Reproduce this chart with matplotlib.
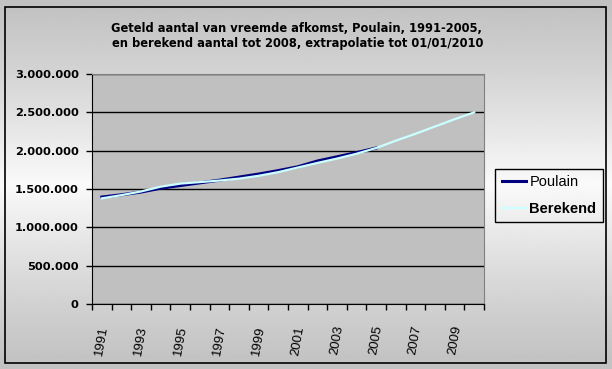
import matplotlib
matplotlib.use("Agg")
import matplotlib.pyplot as plt
from matplotlib.patches import Rectangle
from matplotlib.ticker import FuncFormatter, FixedLocator
import numpy as np

# data
years = list(range(1991, 2011))
poulain = [1395000, 1425000, 1460000, 1510000, 1545000, 1580000, 1615000, 1655000,
           1695000, 1740000, 1790000, 1865000, 1920000, 1975000, 2035000]
berekend = [1378000, 1420000, 1468000, 1530000, 1570000, 1590000, 1610000, 1635000,
            1672000, 1720000, 1780000, 1840000, 1897000, 1960000, 2035000, 2130000,
            2220000, 2315000, 2410000, 2500000]
title1 = "Geteld aantal van vreemde afkomst, Poulain, 1991-2005,"
title2 = "en berekend aantal tot 2008, extrapolatie tot 01/01/2010"

plt.rcParams['font.family'] = ['Liberation Sans', 'DejaVu Sans']

W, H = 612, 369
fig = plt.figure(figsize=(W / 100, H / 100), dpi=100)

# background gradient (grey at top and bottom, light in the middle)
bg = fig.add_axes([0, 0, 1, 1], zorder=-10)
t = np.linspace(0, 1, 256)
g = 0.76 + 0.22 * (1 - np.abs(t - 0.5) * 2) ** 1.2
bg.imshow(g[:, None], cmap='gray', vmin=0, vmax=1, aspect='auto', extent=[0, 1, 0, 1])
bg.set_axis_off()

# chart border
fig.patches.append(Rectangle((5 / W, 1 - 363 / H), 601 / W, 356 / H, transform=fig.transFigure,
                             fill=False, edgecolor='black', linewidth=1.2, zorder=5))

# plot area
left, right, top, bottom = 92, 484, 74, 304
ax = fig.add_axes([left / W, 1 - bottom / H, (right - left) / W, (bottom - top) / H])
ax.set_facecolor('#c0c0c0')

x = np.arange(len(years))
ax.plot(x[:len(poulain)], poulain, color='#000080', linewidth=2.2, label='Poulain', zorder=3)
ax.plot(x, berekend, color='#ccffff', linewidth=1.6, label='Berekend', zorder=4)

ax.set_xlim(-0.5, len(years) - 0.5)
ax.set_ylim(0, 3000000)
ax.set_yticks(np.arange(0, 3000001, 500000))
ax.yaxis.set_major_formatter(FuncFormatter(lambda v, p: f"{int(v):,}".replace(',', '.')))
for lab in ax.get_yticklabels():
    lab.set_fontweight('bold')
    lab.set_family('DejaVu Sans')
ax.tick_params(axis='y', labelsize=8.2, length=4.5, width=1, pad=5, color='black')
ax.grid(axis='y', color='black', linewidth=1)

# category ticks between years, labels every other year
ax.xaxis.set_minor_locator(FixedLocator(np.arange(-0.5, len(years), 1)))
ax.set_xticks(x[::2])
ax.set_xticklabels([str(y) for y in years[::2]], rotation=80, ha='center', va='top')
ax.tick_params(axis='x', which='major', length=0, labelsize=9.5, pad=15)
ax.tick_params(axis='x', which='minor', length=4, width=1, color='black')

ax.spines['left'].set_color('black')
ax.spines['bottom'].set_color('black')
ax.spines['top'].set_color('#808080')
ax.spines['right'].set_color('#808080')
ax.set_axisbelow(True)

fig.text(296 / W, 1 - 28.5 / H, title1, ha='center', va='center', fontsize=8.3,
         fontweight='bold', family='DejaVu Sans')
fig.text(298 / W, 1 - 43 / H, title2, ha='center', va='center', fontsize=8.3,
         fontweight='bold', family='DejaVu Sans')

leg = fig.legend(loc='center', bbox_to_anchor=(549 / W, 1 - 195.5 / H), fontsize=10.5,
                 handlelength=1.7, handletextpad=0.2, labelspacing=0.85, borderpad=0.45,
                 fancybox=False, edgecolor='black', facecolor='none', framealpha=1)
leg.get_frame().set_linewidth(1)
leg.get_texts()[1].set_fontweight('bold')
leg.get_lines()[0].set_linewidth(2.2)
leg.get_lines()[1].set_linewidth(1.6)

fig.savefig('out.png', dpi=100)
